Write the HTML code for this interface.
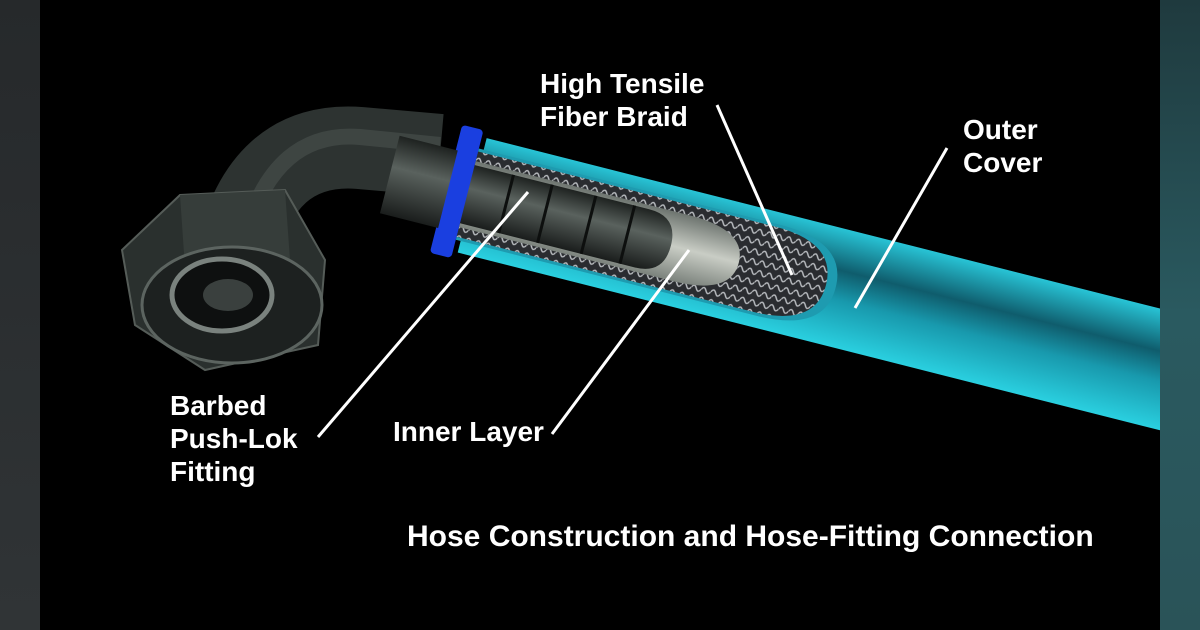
<!DOCTYPE html>
<html><head><meta charset="utf-8"><style>
html,body{margin:0;padding:0;background:#000;}
body{width:1200px;height:630px;overflow:hidden;position:relative;font-family:"Liberation Sans",Arial,sans-serif;}
.t{position:absolute;color:#fff;font-weight:bold;font-size:28px;line-height:33px;}
</style></head><body>
<svg width="1200" height="630" style="position:absolute;left:0;top:0">
<defs>
<linearGradient id="ls" x1="0" y1="0" x2="0" y2="1"><stop offset="0" stop-color="#26292b"/><stop offset="1" stop-color="#303436"/></linearGradient>
<linearGradient id="rs" x1="0" y1="0" x2="0" y2="1"><stop offset="0" stop-color="#1f3a3e"/><stop offset="0.5" stop-color="#2a5a60"/><stop offset="1" stop-color="#2a5358"/></linearGradient>
<linearGradient id="hose" x1="0" y1="0" x2="0" y2="1"><stop offset="0" stop-color="#28c4d6"/><stop offset="0.35" stop-color="#0f5c6c"/><stop offset="0.6" stop-color="#1899ad"/><stop offset="1" stop-color="#2ad0e0"/></linearGradient>
<linearGradient id="fit" x1="0" y1="0" x2="0" y2="1"><stop offset="0" stop-color="#1e2220"/><stop offset="0.4" stop-color="#5a625e"/><stop offset="1" stop-color="#1a1d1c"/></linearGradient>
<linearGradient id="inner" x1="0" y1="0" x2="0" y2="1"><stop offset="0" stop-color="#6d746f"/><stop offset="0.5" stop-color="#c9cdc5"/><stop offset="1" stop-color="#7b827c"/></linearGradient>
<pattern id="braid" width="10" height="10" patternUnits="userSpaceOnUse"><rect width="10" height="10" fill="#2a2c30"/><path d="M0 5 Q2.5 0 5 5 T10 5" stroke="#b9bcc0" stroke-width="1.4" fill="none"/></pattern>
<clipPath id="main"><rect x="40" y="0" width="1120" height="630"/></clipPath>
</defs>
<rect x="0" y="0" width="40" height="630" fill="url(#ls)"/>
<rect x="1160" y="0" width="40" height="630" fill="url(#rs)"/>
<g clip-path="url(#main)">
<!-- elbow pipe -->
<path d="M440 155 L360 148 Q260 140 235 260" stroke="#2d3331" stroke-width="82" fill="none"/>
<path d="M440 145 L360 137 Q275 130 245 235" stroke="#4a524e" stroke-width="16" fill="none" opacity="0.6"/>
<!-- nut -->
<polygon points="180,195 285,190 325,260 318,345 205,370 135,325 122,250" fill="#2a302e" stroke="#555c58" stroke-width="2"/>
<polygon points="180,195 285,190 290,260 185,268" fill="#363d3a"/>
<ellipse cx="232" cy="305" rx="90" ry="58" fill="#1d2120" stroke="#5c6460" stroke-width="3"/>
<ellipse cx="222" cy="295" rx="50" ry="36" fill="#0e1010" stroke="#7a827e" stroke-width="5"/>
<ellipse cx="228" cy="295" rx="25" ry="16" fill="#3a403e"/>
<!-- hose group -->
<g transform="translate(700,253) rotate(14.2)">
<rect x="-235" y="-59" width="900" height="118" fill="url(#hose)"/>
<path d="M-240 -47 L70 -47 Q140 -47 140 0 Q140 47 70 47 L-240 47 Z" fill="#1e9bb0"/>
<path d="M-240 -44 L65 -44 Q130 -44 130 0 Q130 44 65 44 L-240 44 Z" fill="url(#braid)"/>
<path d="M-240 -34 L-20 -34 Q40 -34 40 0 Q40 34 -20 34 L-240 34 Z" fill="url(#inner)"/>
<path d="M-300 -30 L-60 -30 Q-30 -30 -30 0 Q-30 30 -60 30 L-300 30 Z" fill="url(#fit)"/>
<g stroke="#0d0f0e" stroke-width="3"><line x1="-200" y1="-30" x2="-200" y2="30"/><line x1="-160" y1="-30" x2="-160" y2="30"/><line x1="-115" y1="-30" x2="-115" y2="30"/><line x1="-75" y1="-30" x2="-75" y2="30"/></g>
<rect x="-262" y="-66" width="22" height="132" rx="4" fill="#1a3fe0"/>
<rect x="-320" y="-40" width="60" height="80" fill="url(#fit)"/>
</g>
</g>
<g stroke="#fff" stroke-width="3" fill="none">
<line x1="717" y1="105" x2="792" y2="275"/>
<line x1="947" y1="148" x2="855" y2="308"/>
<line x1="528" y1="192" x2="318" y2="437"/>
<line x1="689" y1="250" x2="552" y2="434"/>
</g>
</svg>
<div class="t" style="left:540px;top:67px">High Tensile<br>Fiber Braid</div>
<div class="t" style="left:963px;top:113px">Outer<br>Cover</div>
<div class="t" style="left:170px;top:389px">Barbed<br>Push-Lok<br>Fitting</div>
<div class="t" style="left:393px;top:415px">Inner Layer</div>
<div class="t" style="left:407px;top:520px;font-size:30px">Hose Construction and Hose-Fitting Connection</div>
</body></html>
